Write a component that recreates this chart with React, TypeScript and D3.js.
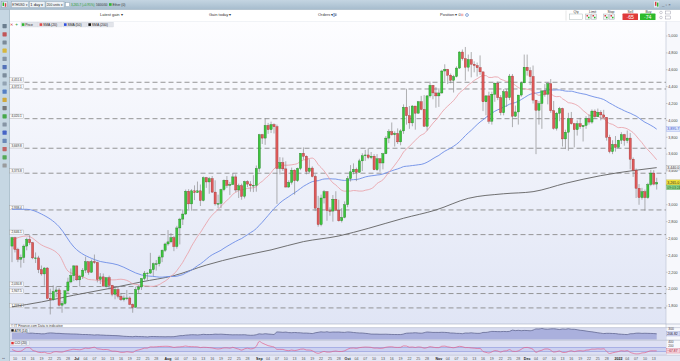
import React from "react";
import * as d3 from "d3";

// ---------- DATA (Ether / USD, daily, 9 Jun 2021 – 14 Jan 2022) ----------
const START_DATE = Date.UTC(2021, 5, 9);
const FIRST_OPEN = 2510;

const closes = [
  // Jun 9-30
  2610, 2470, 2355, 2375, 2510, 2590, 2550, 2370, 2370, 2230, 2180, 2250, 1890, 1875, 1970, 1990, 1810, 1830, 1980, 2085, 2160, 2275,
  // Jul
  2110, 2150, 2225, 2325, 2200, 2325, 2315, 2115, 2145, 2035, 2135, 2045, 1940, 1995, 1915, 1875, 1895, 1895, 1820, 1785, 1995, 2025, 2125, 2190, 2190, 2230, 2300, 2300, 2380, 2460, 2535,
  // Aug
  2560, 2610, 2505, 2725, 2830, 2890, 3160, 3010, 3165, 3145, 3165, 3050, 3320, 3270, 3310, 3150, 3010, 3015, 3180, 3290, 3230, 3240, 3330, 3175, 3225, 3100, 3275, 3245, 3225, 3230, 3430,
  // Sep
  3830, 3790, 3940, 3890, 3950, 3925, 3430, 3500, 3425, 3210, 3265, 3410, 3285, 3430, 3610, 3575, 3395, 3435, 3335, 2960, 2765, 3080, 3155, 2930, 2925, 3065, 2935, 2810, 2850, 3000,
  // Oct
  3310, 3390, 3420, 3385, 3520, 3580, 3590, 3560, 3575, 3415, 3545, 3495, 3605, 3790, 3865, 3830, 3845, 3745, 3875, 4155, 4055, 3970, 4170, 4085, 4220, 4130, 3930, 4290, 4415, 4325, 4290,
  // Nov
  4325, 4585, 4605, 4535, 4475, 4520, 4620, 4810, 4730, 4630, 4720, 4665, 4650, 4625, 4575, 4220, 4290, 3990, 4310, 4440, 4270, 4090, 4340, 4270, 4525, 4050, 4100, 4300, 4445, 4630,
  // Dec
  4590, 4520, 4240, 4120, 4200, 4350, 4310, 4435, 4115, 3905, 4085, 4140, 3780, 3860, 4020, 3960, 3890, 3960, 3925, 3940, 4020, 3980, 4110, 4045, 4095, 4065, 4035, 3800, 3630, 3715, 3680,
  // Jan
  3765, 3830, 3760, 3790, 3540, 3410, 3195, 3085, 3155, 3085, 3240, 3375, 3245, 3265,
];

const highs = [
  2620, 2620, 2490, 2410, 2530, 2610, 2640, 2560, 2435, 2395, 2280, 2260, 2260, 2005, 2045, 2030, 2015, 1860, 1985, 2135, 2245, 2285,
  2280, 2165, 2250, 2385, 2325, 2350, 2410, 2325, 2190, 2185, 2140, 2160, 2050, 2025, 2030, 1955, 1925, 1990, 1915, 1830, 2030, 2045, 2130, 2215, 2200, 2430, 2315, 2345, 2400, 2470, 2550,
  2700, 2665, 2630, 2750, 2845, 2945, 3180, 3185, 3185, 3230, 3275, 3240, 3335, 3330, 3330, 3340, 3290, 3120, 3190, 3300, 3340, 3270, 3375, 3360, 3250, 3250, 3285, 3290, 3280, 3350, 3465,
  3840, 3840, 4025, 3970, 3985, 3965, 3950, 3565, 3560, 3515, 3290, 3440, 3420, 3440, 3610, 3680, 3585, 3540, 3455, 3360, 3105, 3120, 3175, 3160, 2970, 3115, 3160, 3060, 2960, 3040,
  3340, 3470, 3490, 3440, 3545, 3610, 3650, 3670, 3625, 3600, 3600, 3550, 3615, 3815, 3895, 3975, 3870, 3905, 3895, 4190, 4375, 4170, 4180, 4170, 4230, 4290, 4300, 4300, 4460, 4420, 4395,
  4380, 4600, 4665, 4610, 4555, 4540, 4640, 4820, 4840, 4870, 4780, 4810, 4700, 4685, 4770, 4575, 4300, 4340, 4340, 4450, 4460, 4300, 4370, 4370, 4550, 4550, 4175, 4300, 4460, 4780,
  4780, 4630, 4650, 4240, 4230, 4350, 4430, 4450, 4490, 4230, 4100, 4160, 4150, 3890, 4090, 4100, 3970, 4000, 4030, 3945, 4050, 4070, 4130, 4130, 4140, 4120, 4125, 4040, 3830, 3765, 3815,
  3770, 3860, 3840, 3880, 3850, 3560, 3430, 3245, 3200, 3180, 3260, 3415, 3410, 3320,
];

const lows = [
  2320, 2435, 2320, 2255, 2310, 2460, 2525, 2355, 2310, 2190, 2160, 2040, 1880, 1700, 1860, 1905, 1795, 1720, 1815, 1950, 2070, 2095,
  2095, 2030, 2120, 2190, 2170, 2195, 2300, 2080, 2060, 2035, 2020, 1995, 1915, 1880, 1890, 1860, 1855, 1870, 1810, 1720, 1780, 1950, 1990, 2105, 2110, 2180, 2155, 2220, 2270, 2320, 2440,
  2515, 2545, 2450, 2480, 2530, 2760, 2880, 2950, 2930, 3055, 3140, 2985, 3040, 3200, 3130, 3140, 2990, 2960, 2960, 3160, 3200, 3115, 3235, 3150, 3080, 3060, 3075, 3210, 3155, 3150, 3155,
  3390, 3720, 3710, 3840, 3850, 3845, 3010, 3360, 3400, 3205, 3200, 3240, 3120, 3270, 3410, 3535, 3360, 3375, 3325, 2925, 2740, 2745, 3015, 2810, 2870, 2800, 2930, 2800, 2790, 2840,
  2970, 3275, 3360, 3280, 3380, 3400, 3520, 3540, 3540, 3410, 3400, 3390, 3420, 3600, 3730, 3820, 3690, 3720, 3705, 3840, 3950, 3900, 3930, 3890, 4080, 4120, 3925, 3880, 4270, 4250, 4150,
  4160, 4315, 4460, 4430, 4440, 4330, 4510, 4610, 4710, 4470, 4580, 4510, 4570, 4520, 4540, 4110, 4060, 3960, 3950, 4220, 4240, 4060, 4060, 4160, 4240, 3920, 4040, 3950, 4280, 4440,
  4530, 4420, 4200, 3600, 3950, 3900, 4280, 4190, 4090, 3890, 3880, 3990, 3690, 3660, 3640, 3950, 3680, 3820, 3900, 3750, 3900, 3950, 3960, 4020, 4040, 4000, 4030, 3760, 3610, 3600, 3630,
  3680, 3720, 3700, 3730, 3420, 3330, 3080, 3000, 3060, 2930, 3070, 3220, 3230, 3180,
];

// Moving-average values before enough history is on screen: [day index, value]
const sma20Head: [number, number][] = [[0, 2583], [5, 2630], [10, 2524], [16, 2405]];
const sma50Head: [number, number][] = [[0, 2946], [5, 2946], [10, 2890], [16, 2740], [21, 2500], [28, 2350], [36, 2287], [44, 2168]];
const sma200Pts: [number, number][] = [
  [0, 1790], [10, 1848], [21, 1928], [33, 2007], [44, 2086], [55, 2160], [66, 2285], [77, 2385], [88, 2465], [99, 2563],
  [111, 2630], [121, 2720], [133, 2840], [144, 2938], [155, 3076], [167, 3130], [177, 3155], [188, 3254], [200, 3345], [211, 3405], [219, 3440],
];
const ATR_SEED = 250;

const levels = [4451.6, 4372.1, 4020.1, 3669.8, 3373.8, 2938.4, 2646.1, 2030.8, 1947.5, 1777.4];
const priceTicks = [5000, 4800, 4600, 4400, 4200, 4000, 3800, 3600, 3400, 3000, 2800, 2600, 2400, 2200, 2000, 1800];
const MONTHS = ["Jan", "Feb", "Mar", "Apr", "May", "Jun", "Jul", "Aug", "Sep", "Oct", "Nov", "Dec"];
const legendItems = [
  { label: "Price", color: "#2fb52f" },
  { label: "SMA (20)", color: "#e04848" },
  { label: "SMA (50)", color: "#2f4fe0" },
  { label: "SMA (200)", color: "#111" },
];
const toolbarButtons = [
  { t: "ETH/USD ▾", x: 11.5, w: 17 },
  { t: "1 day ▾", x: 29.5, w: 15.5 },
  { t: "200 units ▾", x: 46, w: 18 },
];

// ---------- derived series ----------
const N = closes.length;
const opens = closes.map((c, i) => (i === 0 ? FIRST_OPEN : closes[i - 1]));
const hi = highs.map((h, i) => Math.max(h, opens[i], closes[i]));
const lo = lows.map((l, i) => Math.min(l, opens[i], closes[i]));

function smaPts(n: number, head: [number, number][]): [number, number][] {
  const pts: [number, number][] = head.slice();
  for (let i = n - 1; i < N; i++) pts.push([i, d3.mean(closes.slice(i - n + 1, i + 1)) as number]);
  return pts;
}
const sma20 = smaPts(20, sma20Head);
const sma50 = smaPts(50, sma50Head);

const tr = hi.map((h, i) =>
  i === 0 ? h - lo[i] : Math.max(h - lo[i], Math.abs(h - closes[i - 1]), Math.abs(lo[i] - closes[i - 1]))
);
const atr: number[] = [];
tr.forEach((t, i) => atr.push(i === 0 ? (ATR_SEED * 13 + t) / 14 : (atr[i - 1] * 13 + t) / 14));

const tp = closes.map((c, i) => (hi[i] + lo[i] + c) / 3);
const cci = tp.map((v, i) => {
  const w = tp.slice(Math.max(0, i - 19), i + 1);
  const m = d3.mean(w) as number;
  const md = d3.mean(w, (q) => Math.abs(q - m)) as number;
  return md > 0 ? (v - m) / (0.015 * md) : 0;
});

const dates = closes.map((_, i) => new Date(START_DATE + i * 86400000));
const timeTicks = dates
  .map((dt, i) => ({ i, day: dt.getUTCDate(), m: dt.getUTCMonth(), yr: dt.getUTCFullYear() }))
  .filter((t) => t.day === 1 || ((t.day - 1) % 3 === 0 && t.day <= 28))
  .map((t) => ({
    i: t.i,
    major: t.day === 1,
    label: t.day === 1 ? (t.m === 0 ? String(t.yr) : MONTHS[t.m]) : String(t.day).padStart(2, "0"),
  }));

const FONT = "'Liberation Sans', Arial, Helvetica, sans-serif";

export default function App() {
  const x = d3.scaleLinear().domain([0, N - 1]).range([12, 656.7]);
  const y = d3.scaleLinear().domain([1800, 5000]).range([306, 36]);
  const yAtr = d3.scaleLinear().domain([90, 340]).range([339.5, 327.3]);
  const yCci = d3.scaleLinear().domain([-270, 420]).range([354.9, 341.1]);

  const line = d3.line<[number, number]>().x((d) => x(d[0])).y((d) => y(d[1])).curve(d3.curveMonotoneX);
  const atrLine = d3.line<number>().x((_, i) => x(i)).y((d) => yAtr(d)).curve(d3.curveMonotoneX);
  const atrArea = d3.area<number>().x((_, i) => x(i)).y0(339.6).y1((d) => yAtr(d)).curve(d3.curveMonotoneX);
  const cciLine = d3.line<number>().x((_, i) => x(i)).y((d) => yCci(d)).curve(d3.curveMonotoneX);
  const fmt1 = d3.format(",.1f");
  const fmt2 = d3.format(",.2f");
  const fmt0 = d3.format(",");

  const lastClose = closes[N - 1];
  const last50 = sma50[sma50.length - 1][1];
  const last200 = sma200Pts[sma200Pts.length - 1][1];

  const leftIcons = ["#5a6e80", "#c04040", "#6d7d8c", "#d8b020", "#7a8a9a", "#4060b0", "#6f7f8f", "#8a9aaa",
    "#3f70c0", "#d0a020", "#666", "#30a030", "#7a8a9a", "#3050c0", "#5a7ab0", "#c05050", "#40a040", "#909090"];

  let lx = 21;
  const legend = legendItems.map((it) => {
    const w = it.label.length * 2.2 + 6;
    const r = { ...it, x: lx, w };
    lx += w + 0.8;
    return r;
  });

  return (
    <svg width={680} height={361} style={{ position: "absolute", left: 0, top: 0, fontFamily: FONT }}>
      <defs>
        <linearGradient id="bg" x1="0" y1="0" x2="0" y2="1">
          <stop offset="0" stopColor="#fdfdff" />
          <stop offset="1" stopColor="#e0e5f5" />
        </linearGradient>
        <linearGradient id="topbar" x1="0" y1="0" x2="0" y2="1">
          <stop offset="0" stopColor="#c4d5e2" />
          <stop offset="1" stopColor="#a6bccd" />
        </linearGradient>
        <clipPath id="plot"><rect x={10} y={21.5} width={656} height={302.5} /></clipPath>
        <clipPath id="cciClip"><rect x={10} y={340.6} width={656} height={14.4} /></clipPath>
      </defs>

      <rect x={0} y={0} width={680} height={361} fill="#ffffff" />

      {/* top title bar */}
      <rect x={0} y={0} width={680} height={9.5} fill="url(#topbar)" />
      <line x1={0} x2={680} y1={9.5} y2={9.5} stroke="#7f98ab" strokeWidth={0.6} />
      <rect x={1.5} y={1.5} width={6} height={6} fill="#dfe8ef" stroke="#7f98ab" strokeWidth={0.4} />
      <rect x={2.6} y={2.5} width={1.4} height={3.5} fill="#2fb52f" />
      <rect x={4.8} y={3.2} width={1.4} height={3.5} fill="#d84040" />
      {toolbarButtons.map((b) => (
        <g key={b.t}>
          <rect x={b.x} y={1.6} width={b.w} height={6} fill="#edf1f4" stroke="#8ea4b5" strokeWidth={0.4} />
          <text x={b.x + 0.8} y={5.8} fontSize={3.1} fill="#222" textLength={b.w - 1.8} lengthAdjust="spacingAndGlyphs">{b.t}</text>
        </g>
      ))}
      <rect x={65.5} y={2.6} width={4} height={4} fill="#fff" stroke="#7f98ab" strokeWidth={0.4} />
      <text x={71} y={5.9} fontSize={3.3} fill="#1f9a1f" textLength={23.5} lengthAdjust="spacingAndGlyphs">3,265.7 (+0.95%)</text>
      <text x={96} y={5.9} fontSize={3.3} fill="#333" textLength={11.5} lengthAdjust="spacingAndGlyphs">56/00/00</text>
      <rect x={109} y={3.2} width={2.6} height={2.6} fill="#2fb52f" />
      <text x={112.5} y={5.9} fontSize={3.3} fill="#333">Ether (0)</text>
      <rect x={654} y={1} width={5} height={6.5} fill="#dfe8ef" />
      <rect x={655} y={1.8} width={1.4} height={4} fill="#d84040" />
      <rect x={657} y={2.6} width={1.4} height={4} fill="#2fb52f" />
      <text x={662} y={6.2} fontSize={4.2} fill="#445">_  ▫  ×</text>

      {/* second row */}
      <rect x={9.5} y={9.8} width={670.5} height={11.7} fill="#ffffff" />
      <line x1={9.5} x2={680} y1={21.5} y2={21.5} stroke="#c9d2dc" strokeWidth={0.5} />
      <text x={100} y={16.3} fontSize={4} fill="#333">Latest gain  ▾</text>
      <text x={209} y={16.3} fontSize={4} fill="#333">Gain today  ▾</text>
      <text x={318} y={16.3} fontSize={4} fill="#333">Orders  ▾ 0</text>
      <circle cx={334} cy={15} r={1.4} fill="none" stroke="#3a6fc0" strokeWidth={0.6} />
      <text x={440} y={16.3} fontSize={4} fill="#333">Position  ▾ 0</text>
      <rect x={461} y={13.7} width={2.4} height={2.4} fill="#f2b6b6" />
      <circle cx={467} cy={15} r={1.4} fill="none" stroke="#3a6fc0" strokeWidth={0.6} />
      <line x1={566} x2={566} y1={10.5} y2={20.5} stroke="#ccc" strokeWidth={0.5} />
      <text x={573.5} y={13} fontSize={3.4} fill="#333">Qty</text>
      <rect x={569.5} y={14} width={13} height={5.5} fill="#fff" stroke="#9aa" strokeWidth={0.4} />
      <text x={589} y={13} fontSize={3.4} fill="#333">Limit</text>
      <text x={607.5} y={13} fontSize={3.4} fill="#333">Stop</text>
      {[585.5, 591.5, 603.5, 609.5].map((bx) => (
        <g key={bx}>
          <rect x={bx} y={14} width={5.2} height={5.5} fill="#eef0f2" stroke="#9aa" strokeWidth={0.4} />
          <rect x={bx + 1} y={15} width={1.5} height={1.5} fill="#d84040" />
          <rect x={bx + 2.5} y={16.8} width={1.5} height={1.5} fill="#2fb52f" />
        </g>
      ))}
      <text x={627.5} y={13} fontSize={3.4} fill="#333">Sell</text>
      <rect x={622.5} y={13.6} width={15.5} height={6.4} fill="#e03a3a" rx={0.6} />
      <text x={630.2} y={18.6} fontSize={5.2} fill="#fff" textAnchor="middle">·65</text>
      <text x={645.5} y={13} fontSize={3.4} fill="#333">Buy</text>
      <rect x={640} y={13.6} width={15.5} height={6.4} fill="#2dbb2d" rx={0.6} />
      <text x={647.7} y={18.6} fontSize={5.2} fill="#fff" textAnchor="middle">·74</text>
      <circle cx={661} cy={12.5} r={1.3} fill="#fff" stroke="#889" strokeWidth={0.4} />
      <circle cx={661} cy={17.5} r={1.3} fill="#fff" stroke="#889" strokeWidth={0.4} />
      <rect x={665.5} y={11} width={5} height={3} fill="#fff" stroke="#889" strokeWidth={0.4} />
      <rect x={665.5} y={16} width={5} height={3} fill="#fff" stroke="#889" strokeWidth={0.4} />

      {/* left toolbar */}
      <rect x={0} y={9.8} width={9.5} height={351.2} fill="#c6d7e3" />
      <line x1={9.5} x2={9.5} y1={9.8} y2={361} stroke="#8ea7b8" strokeWidth={0.6} />
      {leftIcons.map((c, k) => (
        <rect key={k} x={2.5} y={24 + k * 8.2} width={4.2} height={4.2} rx={0.6} fill={c} opacity={0.85} />
      ))}
      <text x={1.5} y={359} fontSize={4} fill="#334">↔</text>

      {/* main chart background */}
      <rect x={10} y={21.5} width={656} height={302.5} fill="url(#bg)" />
      <rect x={666} y={21.5} width={14} height={339.5} fill="#f7f8fc" />
      <line x1={666} x2={666} y1={21.5} y2={355} stroke="#b8bfd0" strokeWidth={0.6} />

      {/* legend row */}
      <text x={10.3} y={26} fontSize={4.2} fill="#d03030">✕</text>
      <text x={15.2} y={26.2} fontSize={4.6} fill="#2a9a2a">+</text>
      {legend.map((it) => (
        <g key={it.label}>
          <rect x={it.x} y={22.2} width={it.w} height={4.8} fill="#e2e4ea" stroke="#c8ccd6" strokeWidth={0.3} />
          <rect x={it.x + 0.8} y={23.3} width={2.6} height={2.6} fill={it.color} />
          <text x={it.x + 4.2} y={25.9} fontSize={3.4} fill="#222">{it.label}</text>
        </g>
      ))}

      {/* horizontal levels */}
      {levels.map((lv) => (
        <g key={lv}>
          <line x1={24.5} x2={666} y1={y(lv)} y2={y(lv)} stroke="#8a8a8a" strokeWidth={0.9} strokeDasharray="5,3" />
          <rect x={9.8} y={y(lv) - 4.6} width={13.6} height={4.4} fill="#f8f8fa" stroke="#9a9a9a" strokeWidth={0.35} />
          <text x={16.6} y={y(lv) - 1.2} fontSize={3.1} fill="#333" textAnchor="middle">{fmt1(lv)}</text>
        </g>
      ))}

      <g clipPath="url(#plot)">
        {/* moving averages */}
        <path d={line(sma200Pts) || ""} fill="none" stroke="#616161" strokeWidth={0.9} />
        <path d={line(sma50) || ""} fill="none" stroke="#6d8de6" strokeWidth={0.9} />
        <path d={line(sma20) || ""} fill="none" stroke="#eaa0a8" strokeWidth={0.85} />

        {/* candles */}
        {closes.map((c, i) => {
          const o = opens[i];
          const up = c >= o;
          const yt = y(Math.max(o, c));
          const h = Math.max(0.7, Math.abs(y(o) - y(c)));
          return (
            <g key={i}>
              <line x1={x(i)} x2={x(i)} y1={y(hi[i])} y2={y(lo[i])} stroke="#7d7d7d" strokeWidth={0.6} />
              <rect x={x(i) - 1.1} y={yt} width={2.2} height={h}
                fill={up ? "#3cc43c" : "#de5a5a"} stroke={up ? "#1f7a1f" : "#9a2f2f"} strokeWidth={0.35} />
            </g>
          );
        })}
      </g>

      {/* right price axis */}
      {priceTicks.map((p) => (
        <g key={p}>
          <line x1={666} x2={667.5} y1={y(p)} y2={y(p)} stroke="#999" strokeWidth={0.5} />
          <text x={668.3} y={y(p) + 1.3} fontSize={3.7} fill="#444">{fmt0(p)}</text>
        </g>
      ))}
      <rect x={666.5} y={y(last50) - 2.4} width={13.5} height={4.8} fill="#dfe6fb" stroke="#7d95e0" strokeWidth={0.3} />
      <text x={667.3} y={y(last50) + 1.3} fontSize={3.6} fill="#2f4fd0">{fmt1(last50)}</text>
      <rect x={666.5} y={y(last200) - 2.4} width={13.5} height={4.8} fill="#f1f1f3" stroke="#888" strokeWidth={0.3} />
      <text x={667.3} y={y(last200) + 1.3} fontSize={3.6} fill="#333">{fmt1(last200)}</text>
      <rect x={666.5} y={y(lastClose) - 2.5} width={13.5} height={5} fill="#f2e23a" stroke="#b8a820" strokeWidth={0.3} />
      <text x={667.3} y={y(lastClose) + 1.3} fontSize={3.6} fill="#222">{fmt1(lastClose)}</text>
      <rect x={666.5} y={y(lastClose) + 2.7} width={13.5} height={4.6} fill="#8fd88f" stroke="#4a9a4a" strokeWidth={0.3} />
      <text x={667.3} y={y(lastClose) + 6.2} fontSize={3.4} fill="#1a5a1a">09:03:24</text>

      {/* footer of main panel */}
      <line x1={10} x2={680} y1={324} y2={324} stroke="#a9b0c4" strokeWidth={0.6} />
      <text x={11} y={327} fontSize={3.3} fill="#333">© IT Finance.com  Data is indicative</text>

      {/* ATR panel */}
      <rect x={10} y={327.6} width={656} height={12.2} fill="#d8dcf0" />
      <path d={atrArea(atr) || ""} fill="#aab0dd" />
      <path d={atrLine(atr) || ""} fill="none" stroke="#565c86" strokeWidth={0.7} />
      <rect x={10.5} y={328.2} width={19} height={4.4} fill="#eceef5" stroke="#b0b4c4" strokeWidth={0.3} />
      <rect x={11.3} y={329.2} width={2.4} height={2.4} fill="#111" />
      <text x={14.5} y={331.7} fontSize={3.3} fill="#222">ATR (14)</text>
      <line x1={10} x2={680} y1={327.6} y2={327.6} stroke="#a9b0c4" strokeWidth={0.5} />
      <text x={668.3} y={yAtr(300) + 1.2} fontSize={3.4} fill="#444">300</text>
      <rect x={666.5} y={yAtr(atr[N - 1]) - 2.2} width={13.5} height={4.4} fill="#d6daf2" stroke="#8890c8" strokeWidth={0.3} />
      <text x={667.3} y={yAtr(atr[N - 1]) + 1.2} fontSize={3.4} fill="#223">{fmt2(atr[N - 1])}</text>

      {/* CCI panel */}
      <rect x={10} y={340.2} width={656} height={15} fill="#dde0f3" />
      <line x1={10} x2={680} y1={340.2} y2={340.2} stroke="#a9b0c4" strokeWidth={0.6} />
      <rect x={10} y={yCci(100)} width={656} height={yCci(-100) - yCci(100)} fill="#ccd1f0" />
      <line x1={10} x2={666} y1={yCci(100)} y2={yCci(100)} stroke="#7c86d8" strokeWidth={0.5} />
      <line x1={10} x2={666} y1={yCci(-100)} y2={yCci(-100)} stroke="#7c86d8" strokeWidth={0.5} />
      <g clipPath="url(#cciClip)">
        <path d={cciLine(cci) || ""} fill="none" stroke="#e2608c" strokeWidth={0.7} />
      </g>
      <rect x={10.5} y={340.9} width={19} height={4.4} fill="#eceef5" stroke="#b0b4c4" strokeWidth={0.3} />
      <rect x={11.3} y={341.9} width={2.4} height={2.4} fill="#e03030" />
      <text x={14.5} y={344.4} fontSize={3.3} fill="#222">CCI (20)</text>
      {[400, 200].map((v) => (
        <text key={v} x={668.3} y={yCci(v) + 1.2} fontSize={3.2} fill="#444">{v}</text>
      ))}
      <rect x={666.5} y={yCci(cci[N - 1]) - 2.2} width={13.5} height={4.4} fill="#f6d0d8" stroke="#d05070" strokeWidth={0.3} />
      <text x={667.3} y={yCci(cci[N - 1]) + 1.2} fontSize={3.3} fill="#a01030">{fmt2(cci[N - 1])}</text>

      {/* x axis */}
      <rect x={10} y={355.2} width={670} height={5.8} fill="#e4e7f4" />
      <line x1={10} x2={680} y1={355.2} y2={355.2} stroke="#a9b0c4" strokeWidth={0.5} />
      {timeTicks.map((t) => (
        <text key={t.i} x={x(t.i)} y={359.8} fontSize={3.6} fill={t.major ? "#222" : "#555"}
          fontWeight={t.major ? "bold" : "normal"} textAnchor="middle">{t.label}</text>
      ))}
    </svg>
  );
}
